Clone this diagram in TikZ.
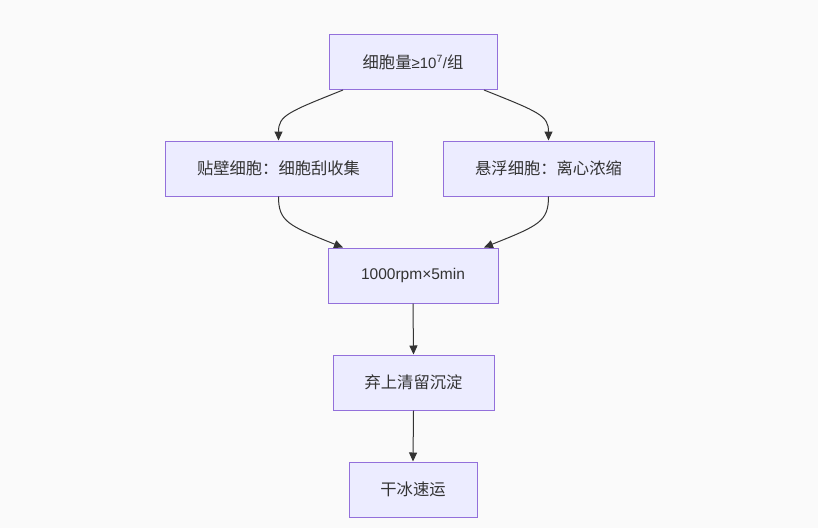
\documentclass[tikz,border=0pt]{standalone}
\usepackage{fontspec}
\setmainfont{Noto Sans CJK SC}
\newfontfamily\latinfont{Liberation Sans}
\usetikzlibrary{arrows.meta}
\definecolor{boxfill}{HTML}{ECECFF}
\definecolor{boxline}{HTML}{9370DB}
\definecolor{edgeline}{HTML}{333333}
\definecolor{pagebg}{HTML}{FAFAFA}
\begin{document}
\begin{tikzpicture}
[
 x=1pt, y=-1pt,
 every node/.style={font=\fontsize{16.3}{19}\selectfont, text=edgeline},
 B/.style={rectangle, draw=boxline, fill=boxfill, line width=1pt, minimum height=55pt, inner sep=0pt},
 E/.style={draw=edgeline, line width=1pt, -{Triangle[length=9pt,width=8pt]}}
 ]
 %
\fill [pagebg] (0,0) rectangle (818,528);
\useasboundingbox (0,0) rectangle (818,528);
%
\node [B, minimum width=168pt]  (cells)  at (413, 62)    {细胞量{\latinfont\fontsize{15}{18}\selectfont ≥10\textsuperscript{7}/}组};
\node [B, minimum width=227pt]  (adh)    at (278.5, 168.5) {贴壁细胞：细胞刮收集};
\node [B, minimum width=211pt]  (sus)    at (548.5, 168.5) {悬浮细胞：离心浓缩};
\node [B, minimum width=170pt]  (spin)   at (413, 275.5)  {\latinfont\fontsize{15.5}{18}\selectfont 1000rpm×5min};
\node [B, minimum width=161pt]  (drop)   at (413.5, 382.5) {弃上清留沉淀};
\node [B, minimum width=128pt]  (ship)   at (413, 489.5)  {干冰速运};
%
\draw [E] ([xshift=-70pt]cells.south) .. controls +(-55,22) and +(0,-25) .. (adh.north);
\draw [E] ([xshift=71pt]cells.south) .. controls +(55,22) and +(0,-25) .. (sus.north);
\draw [E] (adh.south) .. controls +(0,25) and +(-55,-22) .. ([xshift=-70pt]spin.north);
\draw [E] (sus.south) .. controls +(0,25) and +(55,-22) .. ([xshift=71pt]spin.north);
%
\draw [E] (spin.south) -- (drop.north);
\draw [E] (drop.south) -- (ship.north);
%
\end{tikzpicture}
\end{document}
